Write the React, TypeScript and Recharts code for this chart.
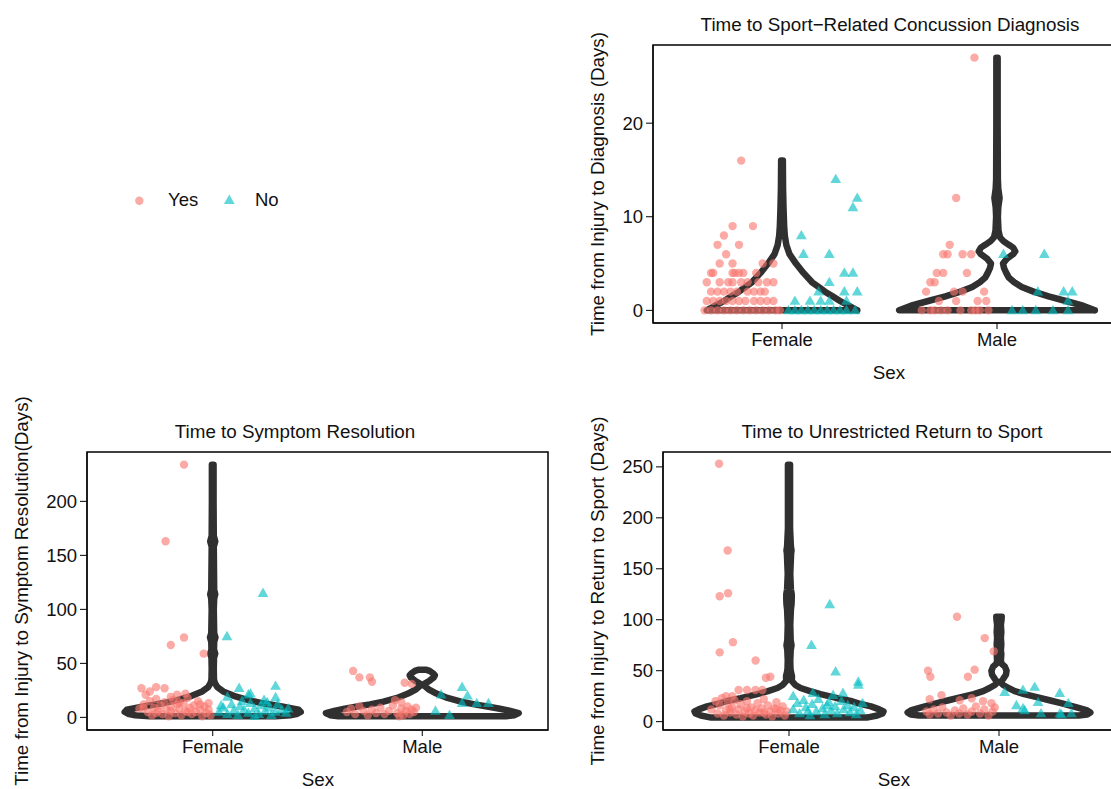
import React from "react";
import {
  ScatterChart,
  Scatter,
  XAxis,
  YAxis,
  ReferenceArea,
} from "recharts";

const RED = "#F8766D";
const TEAL = "#00BFC4";
const INK = "#303030";
const FONT = "'Liberation Sans', Arial, Helvetica, sans-serif";

const categories = ["Female", "Male"];
const xDomain = [0.4, 2.6];

// violin profiles: [days, half-width in category units]
const diagViolinFemale: [number, number][] = [
  [0, 0.35], [0.5, 0.31], [1, 0.27], [1.5, 0.235], [2, 0.2], [2.5, 0.17], [3, 0.14],
  [4, 0.1], [5, 0.065], [6, 0.035], [7, 0.02], [8, 0.013], [9, 0.01], [11, 0.007],
  [13, 0.005], [16, 0.004],
];
const diagViolinMale: [number, number][] = [
  [0, 0.455], [0.5, 0.4], [1, 0.32], [1.5, 0.24], [2, 0.17], [2.5, 0.115], [3, 0.08],
  [3.5, 0.055], [4, 0.043], [4.5, 0.033], [5, 0.028], [5.5, 0.045], [6, 0.075],
  [6.3, 0.085], [6.7, 0.075], [7, 0.055], [7.4, 0.03], [7.8, 0.014], [8.5, 0.007],
  [10, 0.004], [11, 0.006], [12, 0.012], [13, 0.006], [14, 0.004], [20, 0.003], [27, 0.003],
];
const srViolinFemale: [number, number][] = [
  [1, 0.3], [2, 0.37], [3, 0.4], [5, 0.42], [7, 0.41], [10, 0.33], [13, 0.24], [16, 0.17],
  [20, 0.1], [24, 0.05], [28, 0.022], [32, 0.01], [35, 0.006], [45, 0.005], [55, 0.006],
  [59, 0.012], [63, 0.006], [70, 0.007], [74, 0.013], [78, 0.007], [100, 0.005],
  [110, 0.007], [114, 0.012], [118, 0.007], [158, 0.005], [163, 0.012], [168, 0.005],
  [200, 0.004], [234, 0.004],
];
const srViolinMale: [number, number][] = [
  [1, 0.4], [2, 0.44], [4, 0.46], [6, 0.42], [8, 0.37], [10, 0.31], [12, 0.25],
  [14.5, 0.185], [18, 0.12], [22, 0.068], [26, 0.03], [29, 0.012], [31, 0.01], [34, 0.035],
  [37, 0.055], [39, 0.06], [41, 0.05], [43, 0.035], [44, 0.02],
];
const rtsViolinFemale: [number, number][] = [
  [4, 0.37], [6, 0.42], [8, 0.445], [10, 0.45], [12, 0.43], [15, 0.39], [18, 0.33],
  [20, 0.3], [23, 0.23], [27, 0.15], [30, 0.1], [33, 0.055], [36, 0.03], [40, 0.013],
  [43, 0.014], [45, 0.014], [48, 0.01], [52, 0.007], [60, 0.006], [70, 0.008],
  [75, 0.012], [80, 0.008], [95, 0.006], [110, 0.009], [115, 0.012], [120, 0.013],
  [125, 0.013], [130, 0.009], [145, 0.006], [165, 0.01], [168, 0.012], [172, 0.009],
  [190, 0.005], [220, 0.005], [252, 0.005],
];
const rtsViolinMale: [number, number][] = [
  [6, 0.38], [7, 0.42], [9, 0.435], [11, 0.42], [14, 0.37], [18, 0.3], [21, 0.24],
  [24, 0.18], [27, 0.12], [30, 0.075], [33, 0.045], [36, 0.02], [38.5, 0.008], [42, 0.02],
  [46, 0.033], [50, 0.036], [54, 0.028], [57, 0.012], [60, 0.009], [66, 0.011], [70, 0.009],
  [76, 0.011], [82, 0.009], [88, 0.011], [95, 0.009], [100, 0.012], [103, 0.013],
];

// observations: [jitter offset, days]
const diagYesFemale: [number, number][] = [
  [-0.19, 16], [-0.23, 9], [-0.135, 9], [-0.27, 8], [-0.3, 7], [-0.2, 7], [-0.26, 6],
  [-0.29, 5], [-0.23, 5], [-0.09, 5], [-0.04, 5],
  [-0.33, 4], [-0.32, 4], [-0.23, 4], [-0.22, 4], [-0.2, 4], [-0.18, 4], [-0.12, 4],
  [-0.35, 3], [-0.29, 3], [-0.25, 3], [-0.23, 3], [-0.19, 3], [-0.16, 3], [-0.11, 3], [-0.07, 3], [-0.04, 3],
  [-0.33, 2], [-0.3, 2], [-0.27, 2], [-0.24, 2], [-0.21, 2], [-0.16, 2], [-0.13, 2], [-0.1, 2], [-0.08, 2],
  [-0.35, 1], [-0.32, 1], [-0.29, 1], [-0.26, 1], [-0.23, 1], [-0.2, 1], [-0.17, 1], [-0.13, 1], [-0.1, 1], [-0.07, 1], [-0.04, 1],
  [-0.36, 0], [-0.33, 0], [-0.3, 0], [-0.27, 0], [-0.24, 0], [-0.21, 0], [-0.18, 0], [-0.15, 0],
  [-0.12, 0], [-0.09, 0], [-0.06, 0], [-0.03, 0], [-0.01, 0],
];
const diagNoFemale: [number, number][] = [
  [0.25, 14], [0.35, 12], [0.33, 11], [0.09, 8], [0.1, 6], [0.22, 6], [0.29, 4], [0.33, 4],
  [0.22, 3], [0.17, 2], [0.29, 2], [0.35, 2], [0.06, 1], [0.13, 1], [0.18, 1], [0.22, 1], [0.3, 1],
  [0.03, 0], [0.06, 0], [0.09, 0], [0.12, 0], [0.15, 0], [0.18, 0], [0.21, 0], [0.24, 0],
  [0.27, 0], [0.3, 0], [0.34, 0],
];
const diagYesMale: [number, number][] = [
  [-0.105, 27], [-0.19, 12], [-0.22, 7], [-0.25, 6], [-0.23, 6], [-0.16, 6], [-0.12, 6],
  [-0.28, 4], [-0.25, 4], [-0.14, 4], [-0.31, 3], [-0.29, 3], [-0.33, 2], [-0.2, 2],
  [-0.16, 2], [-0.06, 2], [-0.27, 1], [-0.19, 1], [-0.09, 1], [-0.05, 1],
  [-0.35, 0], [-0.31, 0], [-0.29, 0], [-0.26, 0], [-0.23, 0], [-0.17, 0], [-0.12, 0],
  [-0.1, 0], [-0.08, 0], [-0.04, 0],
];
const diagNoMale: [number, number][] = [
  [0.03, 6], [0.22, 6], [0.19, 2], [0.31, 2], [0.35, 2], [0.33, 1],
  [0.07, 0], [0.12, 0], [0.18, 0], [0.26, 0], [0.33, 0],
];

const srYesFemale: [number, number][] = [
  [-0.137, 234], [-0.225, 163], [-0.137, 74], [-0.2, 67], [-0.043, 59],
  [-0.34, 27], [-0.27, 28], [-0.23, 27], [-0.32, 21], [-0.2, 19], [-0.13, 22], [-0.3, 24], [-0.17, 21],
  [-0.35, 8], [-0.33, 12], [-0.31, 5], [-0.3, 15], [-0.29, 2], [-0.28, 9], [-0.27, 17],
  [-0.26, 6], [-0.25, 11], [-0.24, 3], [-0.23, 14], [-0.22, 7], [-0.21, 1], [-0.2, 10],
  [-0.19, 16], [-0.18, 4], [-0.17, 12], [-0.16, 8], [-0.15, 2], [-0.14, 13], [-0.13, 6],
  [-0.12, 18], [-0.11, 9], [-0.1, 3], [-0.09, 11], [-0.08, 5], [-0.07, 15], [-0.06, 7],
  [-0.05, 1], [-0.04, 10], [-0.03, 4], [-0.02, 13], [-0.02, 7], [-0.01, 2], [-0.06, 12],
  [-0.27, 4], [-0.2, 6], [-0.12, 5], [-0.33, 9], [-0.16, 14],
];
const srNoFemale: [number, number][] = [
  [0.24, 115], [0.068, 75], [0.3, 29], [0.126, 27], [0.18, 22], [0.07, 19], [0.3, 18.5],
  [0.245, 16], [0.17, 21],
  [0.03, 5], [0.05, 9], [0.07, 3], [0.09, 12], [0.1, 6], [0.12, 2], [0.13, 10], [0.15, 7],
  [0.17, 4], [0.18, 13], [0.2, 8], [0.22, 3], [0.23, 11], [0.25, 6], [0.27, 9], [0.28, 2],
  [0.3, 5], [0.31, 12], [0.33, 7], [0.35, 4], [0.36, 8], [0.14, 15], [0.26, 14], [0.04, 11], [0.2, 1],
];
const srYesMale: [number, number][] = [
  [-0.33, 43], [-0.3, 37], [-0.25, 37], [-0.24, 33], [-0.084, 32], [-0.05, 31], [-0.13, 16], [-0.1, 14],
  [-0.36, 5], [-0.34, 8], [-0.32, 3], [-0.3, 10], [-0.28, 6], [-0.26, 2], [-0.24, 7],
  [-0.22, 4], [-0.2, 9], [-0.18, 3], [-0.16, 6], [-0.14, 11], [-0.12, 4], [-0.1, 8],
  [-0.09, 2], [-0.08, 6], [-0.07, 10], [-0.06, 3], [-0.05, 7], [-0.04, 5], [-0.03, 9], [-0.11, 1],
];
const srNoMale: [number, number][] = [
  [0.19, 28], [0.216, 20], [0.09, 21], [0.19, 13], [0.26, 13], [0.316, 13], [0.063, 6], [0.13, 2],
];

const rtsYesFemale: [number, number][] = [
  [-0.333, 253], [-0.292, 168], [-0.33, 123], [-0.29, 126], [-0.267, 78], [-0.33, 68],
  [-0.159, 60], [-0.11, 43], [-0.089, 44],
  [-0.24, 31], [-0.2, 31], [-0.16, 31], [-0.127, 31], [-0.3, 25], [-0.27, 25],
  [-0.37, 12], [-0.35, 20], [-0.34, 8], [-0.33, 16], [-0.32, 23], [-0.31, 6], [-0.3, 11],
  [-0.29, 18], [-0.28, 9], [-0.27, 14], [-0.26, 21], [-0.25, 7], [-0.24, 12], [-0.23, 17],
  [-0.22, 5], [-0.21, 10], [-0.2, 20], [-0.19, 8], [-0.18, 14], [-0.17, 6], [-0.16, 11],
  [-0.15, 18], [-0.14, 9], [-0.13, 13], [-0.12, 22], [-0.11, 7], [-0.1, 16], [-0.09, 10],
  [-0.08, 5], [-0.07, 13], [-0.06, 19], [-0.05, 8], [-0.04, 11], [-0.03, 15], [-0.02, 6],
  [-0.01, 10], [-0.2, 13], [-0.28, 12], [-0.12, 9], [-0.06, 12],
];
const rtsNoFemale: [number, number][] = [
  [0.194, 115], [0.107, 75], [0.222, 49], [0.33, 39], [0.33, 36], [0.02, 25], [0.114, 28],
  [0.21, 26], [0.257, 28],
  [0.02, 12], [0.04, 18], [0.05, 8], [0.07, 21], [0.08, 14], [0.1, 6], [0.11, 17], [0.13, 10],
  [0.14, 22], [0.16, 13], [0.17, 7], [0.19, 19], [0.2, 11], [0.22, 15], [0.23, 8], [0.25, 20],
  [0.26, 12], [0.28, 16], [0.29, 9], [0.31, 14], [0.32, 7], [0.34, 11], [0.35, 18], [0.09, 10], [0.18, 16],
];
const rtsYesMale: [number, number][] = [
  [-0.2, 103], [-0.068, 82], [-0.025, 69], [-0.338, 50], [-0.327, 44], [-0.116, 51],
  [-0.148, 44], [-0.33, 22], [-0.274, 26], [-0.187, 21], [-0.13, 23], [-0.076, 20], [-0.036, 18],
  [-0.345, 10], [-0.33, 7], [-0.31, 12], [-0.29, 8], [-0.27, 14], [-0.25, 9], [-0.23, 6],
  [-0.21, 11], [-0.19, 8], [-0.17, 13], [-0.15, 7], [-0.13, 10], [-0.11, 15], [-0.09, 8],
  [-0.07, 12], [-0.05, 6], [-0.03, 10], [-0.02, 14],
];
const rtsNoMale: [number, number][] = [
  [0.027, 29], [0.114, 31], [0.17, 34], [0.289, 28], [0.083, 16], [0.186, 19], [0.33, 18],
  [0.114, 13], [0.2, 8], [0.29, 8], [0.345, 8], [0.122, 11], [0.297, 7],
];

const diagTicks = [0, 10, 20];
const srTicks = [0, 50, 100, 150, 200];
const rtsTicks = [0, 50, 100, 150, 200, 250];

const toPoints = (pts: [number, number][], cat: number) =>
  pts.map(([j, v]) => ({ x: cat + j, y: v }));

const outline = (prof: [number, number][], cat: number) => {
  const right = prof.map(([v, w]) => ({ x: cat + w, y: v }));
  const left = [...prof].reverse().map(([v, w]) => ({ x: cat - w, y: v }));
  return [...right, ...left, right[0]];
};

const Dot = (p: any) => <circle cx={p.cx} cy={p.cy} r={4.2} fill={RED} fillOpacity={0.62} />;
const Tri = (p: any) => (
  <polygon
    points={`${p.cx},${p.cy - 5.6} ${p.cx - 5.4},${p.cy + 3.8} ${p.cx + 5.4},${p.cy + 3.8}`}
    fill={TEAL}
    fillOpacity={0.62}
  />
);
const Nothing = () => <g />;

const tickStyle = { fill: "#111", fontSize: 18.5 };

type PanelProps = {
  left: number;
  top: number;
  plotW: number;
  yDomain: [number, number];
  yTicks: number[];
  violins: [number, number][][];
  yes: [number, number][][];
  no: [number, number][][];
};

const Panel = ({ left, top, plotW, yDomain, yTicks, violins, yes, no }: PanelProps) => (
  <div style={{ position: "absolute", left, top }}>
    <ScatterChart
      width={60 + plotW + 5}
      height={5 + 278 + 40}
      margin={{ top: 5, right: 5, bottom: 0, left: 0 }}
    >
      <XAxis
        type="number"
        dataKey="x"
        domain={xDomain}
        ticks={[1, 2]}
        allowDataOverflow
        tickFormatter={(v) => categories[v - 1]}
        height={40}
        tickSize={6}
        tickMargin={4}
        tick={tickStyle}
        stroke="#000"
      />
      <YAxis
        type="number"
        dataKey="y"
        domain={yDomain}
        ticks={yTicks}
        allowDataOverflow
        width={60}
        tickSize={7}
        tickMargin={3}
        tick={tickStyle}
        stroke="#000"
      />
      {violins.map((prof, i) => (
        <Scatter
          key={`v${i}`}
          data={outline(prof, i + 1)}
          line={{ stroke: INK, strokeWidth: 6.5, strokeLinejoin: "round", strokeLinecap: "round" }}
          lineType="joint"
          shape={Nothing}
          isAnimationActive={false}
        />
      ))}
      {yes.map((pts, i) => (
        <Scatter key={`y${i}`} data={toPoints(pts, i + 1)} shape={Dot} isAnimationActive={false} />
      ))}
      {no.map((pts, i) => (
        <Scatter key={`n${i}`} data={toPoints(pts, i + 1)} shape={Tri} isAnimationActive={false} />
      ))}
      <ReferenceArea
        x1={xDomain[0]}
        x2={xDomain[1]}
        y1={yDomain[0]}
        y2={yDomain[1]}
        fill="none"
        stroke="#000"
        strokeWidth={1.5}
      />
    </ScatterChart>
  </div>
);

const Label = ({ x, y, text, rotate }: { x: number; y: number; text: string; rotate?: boolean }) => (
  <div
    style={{
      position: "absolute",
      left: x,
      top: y,
      transform: `translate(-50%, -50%)${rotate ? " rotate(-90deg)" : ""}`,
      whiteSpace: "nowrap",
      fontSize: 18.8,
      color: "#111",
      lineHeight: 1,
    }}
  >
    {text}
  </div>
);

export default function App() {
  return (
    <div
      style={{
        position: "fixed",
        left: 0,
        top: 0,
        width: 1111,
        height: 789,
        overflow: "hidden",
        background: "#fff",
        fontFamily: FONT,
      }}
    >
      {/* shared legend */}
      <svg style={{ position: "absolute", left: 130, top: 190 }} width={110} height={22}>
        <circle cx={9.3} cy={10.7} r={4.2} fill={RED} fillOpacity={0.62} />
        <polygon points="99.3,4.6 93.9,14 104.7,14" fill={TEAL} fillOpacity={0.62} />
      </svg>
      <div style={{ position: "absolute", left: 168, top: 191, fontSize: 18.5, lineHeight: 1, color: "#111" }}>Yes</div>
      <div style={{ position: "absolute", left: 255, top: 191, fontSize: 18.5, lineHeight: 1, color: "#111" }}>No</div>

      <Label x={890} y={25} text="Time to Sport−Related Concussion Diagnosis" />
      <Label x={598} y={184} text="Time from Injury to Diagnosis (Days)" rotate />
      <Label x={889} y={373} text="Sex" />
      <Panel
        left={593}
        top={40}
        plotW={473}
        yDomain={[-1.35, 28.35]}
        yTicks={diagTicks}
        violins={[diagViolinFemale, diagViolinMale]}
        yes={[diagYesFemale, diagYesMale]}
        no={[diagNoFemale, diagNoMale]}
      />

      <Label x={295} y={432} text="Time to Symptom Resolution" />
      <Label x={22} y={591} text="Time from Injury to Symptom Resolution(Days)" rotate />
      <Label x={318} y={780} text="Sex" />
      <Panel
        left={27}
        top={447}
        plotW={461}
        yDomain={[-11.7, 245.7]}
        yTicks={srTicks}
        violins={[srViolinFemale, srViolinMale]}
        yes={[srYesFemale, srYesMale]}
        no={[srNoFemale, srNoMale]}
      />

      <Label x={892} y={432} text="Time to Unrestricted Return to Sport" />
      <Label x={598} y={591} text="Time from Injury to Return to Sport (Days)" rotate />
      <Label x={894} y={780} text="Sex" />
      <Panel
        left={603}
        top={447}
        plotW={462}
        yDomain={[-8.2, 264.6]}
        yTicks={rtsTicks}
        violins={[rtsViolinFemale, rtsViolinMale]}
        yes={[rtsYesFemale, rtsYesMale]}
        no={[rtsNoFemale, rtsNoMale]}
      />
    </div>
  );
}
